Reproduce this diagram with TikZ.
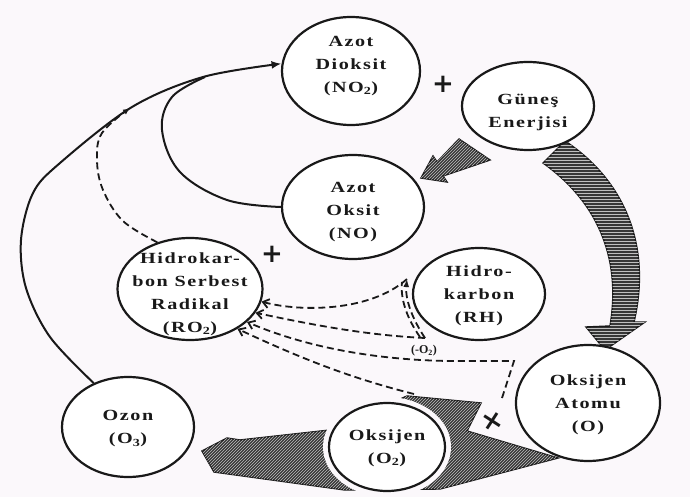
\documentclass[tikz,border=0pt]{standalone}
\usepackage{fontspec}
\setmainfont{Liberation Serif}
\newfontfamily\lblfont[FakeStretch=1.3,LetterSpace=10]{Liberation Serif}
\newfontfamily\signfont{DejaVu Sans}
\usetikzlibrary{shapes.geometric,arrows.meta,patterns}
\pgfdeclarelayer{background}
\pgfsetlayers{background,main}
\definecolor{bgcol}{RGB}{251,248,251}
\definecolor{hatchcol}{RGB}{55,55,55}
\definecolor{inkcol}{RGB}{25,25,25}
\begin{document}
\begin{tikzpicture}[x=1pt,y=-1pt,
  bubble/.style={draw=inkcol, ellipse, line width=2.2pt, fill=white, inner sep=0pt},
  txt/.style={align=center, inner sep=0pt, text=inkcol, font=\lblfont\bfseries\fontsize{15.5}{23}\selectfont},
  solidarc/.style={draw=inkcol, line width=2pt},
  dasharc/.style={draw=inkcol, line width=1.8pt, dash pattern=on 7pt off 4pt},
  hatchA/.style={draw=inkcol, line width=1.4pt, fill=hatchcol, postaction={pattern=north east lines, pattern color=white!75!black}},
  hatchB/.style={draw=inkcol, line width=1.4pt, fill=hatchcol, postaction={pattern=horizontal lines, pattern color=white!75!black}},
  halo/.style={draw=bgcol, line width=6pt},
  sign/.style={font=\signfont\bfseries\fontsize{26}{26}\selectfont, inner sep=0pt, text=inkcol},
  tip/.style={-{Latex[length=10pt,width=8pt]}},
  opentip/.style={-{Straight Barb[length=6pt,width=9pt]}}]
\useasboundingbox (0,0) rectangle (690,497);

% nodes
\node[bubble, minimum width=138pt, minimum height=108pt] (no2) at (351,71) {};
\node[bubble, minimum width=132pt, minimum height=88pt] (gunes) at (528,106) {};
\node[bubble, minimum width=142pt, minimum height=104pt] (no) at (353,207) {};
\node[bubble, minimum width=145pt, minimum height=102pt] (ro2) at (190,289) {};
\node[bubble, minimum width=132pt, minimum height=92pt] (rh) at (479,294) {};
\node[bubble, minimum width=144pt, minimum height=116pt] (oat) at (588,403) {};
\node[bubble, minimum width=116pt, minimum height=88pt] (o2) at (387,447) {};
\node[bubble, minimum width=132pt, minimum height=100pt] (ozon) at (128,427) {};

\node[txt] (no2t) at (351,66) {Azot\\Dioksit\\(NO\textsubscript{2})};
\node[txt] (gunest) at (528,112) {Güneş\\Enerjisi};
\node[txt] (not) at (353,212) {Azot\\Oksit\\(NO)};
\node[txt] (ro2t) at (190,294) {Hidrokar-\\bon Serbest\\Radikal\\(RO\textsubscript{2})};
\node[txt] (rht) at (479,296) {Hidro-\\karbon\\(RH)};
\node[txt] (oatt) at (588,405) {Oksijen\\Atomu\\(O)};
\node[txt] (o2t) at (387,448) {Oksijen\\(O\textsubscript{2})};
\node[txt] (ozont) at (128,429) {Ozon\\(O\textsubscript{3})};

% background: hatched arrows
\begin{pgfonlayer}{background}
\fill[bgcol] (0,0) rectangle (690,497);
\draw[hatchA] (407,396) -- (481,403) -- (467,431) -- (558,458) -- (440,489) -- (345,490)
  -- (214,472) -- (202,451) -- (227,438) -- (240,440) -- (330,430) -- cycle;
\draw[halo] (o2.center) ellipse [x radius=61, y radius=47];
\draw[hatchB] (565,141) .. controls (624,180) and (652,245) .. (634,322) -- (645,322)
  -- (605,350) -- (586,327) -- (610,326) .. controls (622,255) and (595,200) .. (543,163) -- cycle;
\draw[hatchA] (459,139) -- (490,160) -- (443,176) -- (447,182) -- (421,178) -- (433,156) -- (437,162) -- cycle;
\end{pgfonlayer}

% solid connectors
\draw[solidarc, tip] plot[smooth, tension=0.55] coordinates
  {(ozon.128) (50,337) (26,288) (21,240) (33,193) (60,163) (132,107) (203,77) (no2.174)};
\draw[solidarc] plot[smooth, tension=0.6] coordinates
  {(no.west) (227,200) (180,172) (162,130) (172,97) (205,77)};

% dashed connectors
\draw[dasharc, -{Latex[length=7pt,width=6pt]}] plot[smooth, tension=0.6] coordinates
  {(ro2.125) (123,221) (103,190) (97,160) (102,133) (130,108)};

\coordinate (rhA) at (425,338);
\coordinate (rhB) at (407,279);
\coordinate (rhA2) at (420,337);
\coordinate (rhB2) at (402,282);
\coordinate (oA) at (502,398);
\coordinate (oB) at (514,361);
\coordinate (wA) at (414,394);

\draw[dasharc, -{Latex[length=8pt,width=6pt]}] (rhA) .. controls (413,320) and (405,300) .. (rhB);
\draw[dasharc] (rhA2) .. controls (408,320) and (400,300) .. (rhB2);
\draw[dasharc, {Straight Barb[length=6pt,width=9pt]}-] (ro2.-10) .. controls (300,312) and (370,312) .. (rhB);
\draw[dasharc, opentip] (rhA) .. controls (360,335) and (300,322) .. (ro2.-20);
\draw[dasharc, opentip] (oA) -- (oB) -- (450,361) .. controls (370,360) and (300,345) .. (ro2.-30);
\draw[dasharc, opentip] (wA) .. controls (350,378) and (300,358) .. (ro2.-40);

% signs and label
\node[sign] (p1) at (443,84) {+};
\node[sign] (p2) at (272,254) {+};
\node[sign, rotate=12] (p3) at (493,422) {×};
\node[font=\bfseries\fontsize{12}{12}\selectfont, inner sep=1pt, text=inkcol] (lbl) at (424,351) {(-O\textsubscript{2})};
\end{tikzpicture}
\end{document}
